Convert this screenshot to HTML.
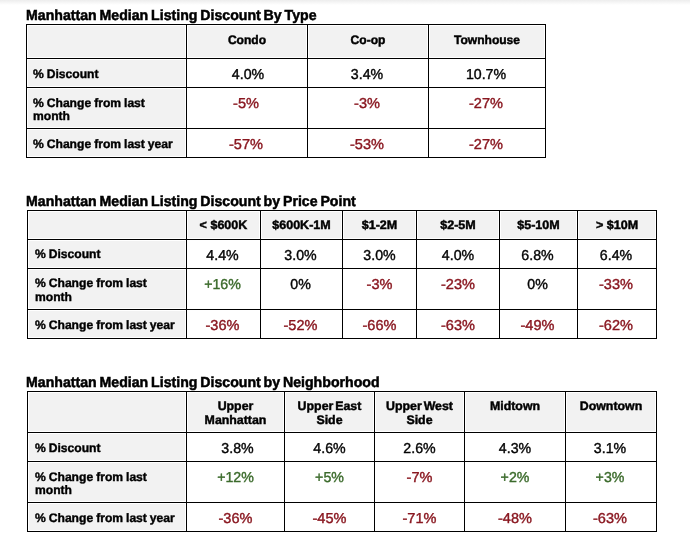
<!DOCTYPE html>
<html lang="en"><head><meta charset="utf-8"><title>Manhattan Median Listing Discount</title>
<style>
html,body{margin:0;padding:0;background:#fff;}
body{width:690px;height:540px;position:relative;overflow:hidden;font-family:"Liberation Sans", sans-serif;color:#111;text-rendering:geometricPrecision;}
.sh{position:absolute;left:0;top:0;width:690px;height:5px;background:linear-gradient(#ededed,#fff);}
.bg{position:absolute;background:#f2f2f2;}
.hl{position:absolute;height:1px;background:#000;}
.vl{position:absolute;width:1px;background:#000;}
.t,.l,.h,.v{position:absolute;white-space:nowrap;line-height:20px;height:20px;}
.t{font-weight:bold;font-size:14.5px;color:#000;transform:scaleX(0.975);transform-origin:0 50%;-webkit-text-stroke:0.5px #000;word-spacing:-1.1px;}
.l{font-weight:bold;font-size:12.3px;color:#000;transform:scaleX(0.985);transform-origin:0 50%;-webkit-text-stroke:0.4px #000;word-spacing:-0.4px;}
.h{font-weight:bold;font-size:12.3px;color:#000;text-align:center;transform:scaleX(1.005);transform-origin:50% 50%;-webkit-text-stroke:0.45px #000;}
.v{font-size:14.4px;text-align:center;transform:scaleX(0.985);transform-origin:50% 50%;-webkit-text-stroke:0.4px;}
.v.m{transform:scaleX(1.01)}
.v.p{transform:scaleX(0.985)}
</style></head><body>
<div class="sh"></div>

<div class="t" style="left:26.4px;top:6px">Manhattan Median Listing Discount By Type</div>
<div class="bg" style="left:28px;top:26px;width:157px;height:31px"></div>
<div class="bg" style="left:28px;top:60px;width:157px;height:26px"></div>
<div class="bg" style="left:28px;top:89px;width:157px;height:38px"></div>
<div class="bg" style="left:28px;top:130px;width:157px;height:26px"></div>
<div class="bg" style="left:188px;top:26px;width:118px;height:31px"></div>
<div class="bg" style="left:309px;top:26px;width:118px;height:31px"></div>
<div class="bg" style="left:430px;top:26px;width:114px;height:31px"></div>
<div class="hl" style="left:26px;top:24px;width:520px"></div>
<div class="hl" style="left:26px;top:58px;width:520px"></div>
<div class="hl" style="left:26px;top:87px;width:520px"></div>
<div class="hl" style="left:26px;top:128px;width:520px"></div>
<div class="hl" style="left:26px;top:157px;width:520px"></div>
<div class="vl" style="left:26px;top:24px;height:134px"></div>
<div class="vl" style="left:186px;top:24px;height:134px"></div>
<div class="vl" style="left:307px;top:24px;height:134px"></div>
<div class="vl" style="left:428px;top:24px;height:134px"></div>
<div class="vl" style="left:545px;top:24px;height:134px"></div>
<div class="h" style="left:186.65px;top:30px;width:120px;transform:scaleX(0.98)">Condo</div>
<div class="h" style="left:307.65px;top:30px;width:120px;transform:scaleX(0.98)">Co-op</div>
<div class="h" style="left:428.65px;top:30px;width:116px;transform:scaleX(0.98)">Townhouse</div>
<div class="l" style="left:33px;top:64px">% Discount</div>
<div class="v" style="left:187.95px;top:65px;width:120px;color:#050505">4.0%</div>
<div class="v" style="left:307.25px;top:65px;width:120px;color:#050505">3.4%</div>
<div class="v" style="left:428.25px;top:65px;width:116px;color:#050505">10.7%</div>
<div class="l" style="left:33px;top:93px">% Change from last</div>
<div class="l" style="left:33px;top:106px">month</div>
<div class="v m" style="left:186.25px;top:94px;width:120px;color:#8a1821">-5%</div>
<div class="v m" style="left:307.25px;top:94px;width:120px;color:#8a1821">-3%</div>
<div class="v m" style="left:428.25px;top:94px;width:116px;color:#8a1821">-27%</div>
<div class="l" style="left:33px;top:134px">% Change from last year</div>
<div class="v m" style="left:186.25px;top:135px;width:120px;color:#8a1821">-57%</div>
<div class="v m" style="left:307.25px;top:135px;width:120px;color:#8a1821">-53%</div>
<div class="v m" style="left:428.25px;top:135px;width:116px;color:#8a1821">-27%</div>
<div class="t" style="left:26.4px;top:192px">Manhattan Median Listing Discount by Price Point</div>
<div class="bg" style="left:29px;top:212px;width:156px;height:26px"></div>
<div class="bg" style="left:29px;top:241px;width:156px;height:26px"></div>
<div class="bg" style="left:29px;top:270px;width:156px;height:38px"></div>
<div class="bg" style="left:29px;top:311px;width:156px;height:26px"></div>
<div class="bg" style="left:188px;top:212px;width:71px;height:26px"></div>
<div class="bg" style="left:262px;top:212px;width:79px;height:26px"></div>
<div class="bg" style="left:344px;top:212px;width:71px;height:26px"></div>
<div class="bg" style="left:418px;top:212px;width:80px;height:26px"></div>
<div class="bg" style="left:501px;top:212px;width:75px;height:26px"></div>
<div class="bg" style="left:579px;top:212px;width:76px;height:26px"></div>
<div class="hl" style="left:27px;top:210px;width:630px"></div>
<div class="hl" style="left:27px;top:239px;width:630px"></div>
<div class="hl" style="left:27px;top:268px;width:630px"></div>
<div class="hl" style="left:27px;top:309px;width:630px"></div>
<div class="hl" style="left:27px;top:338px;width:630px"></div>
<div class="vl" style="left:27px;top:210px;height:129px"></div>
<div class="vl" style="left:186px;top:210px;height:129px"></div>
<div class="vl" style="left:260px;top:210px;height:129px"></div>
<div class="vl" style="left:342px;top:210px;height:129px"></div>
<div class="vl" style="left:416px;top:210px;height:129px"></div>
<div class="vl" style="left:499px;top:210px;height:129px"></div>
<div class="vl" style="left:577px;top:210px;height:129px"></div>
<div class="vl" style="left:656px;top:210px;height:129px"></div>
<div class="h" style="left:186.65px;top:215px;width:73px;transform:scaleX(1.02)">&lt; $600K</div>
<div class="h" style="left:260.65px;top:215px;width:81px;transform:scaleX(1.02)">$600K-1M</div>
<div class="h" style="left:342.65px;top:215px;width:73px;transform:scaleX(1.02)">$1-2M</div>
<div class="h" style="left:416.65px;top:215px;width:82px;transform:scaleX(1.02)">$2-5M</div>
<div class="h" style="left:499.65px;top:215px;width:77px;transform:scaleX(1.02)">$5-10M</div>
<div class="h" style="left:577.65px;top:215px;width:78px;transform:scaleX(1.02)">&gt; $10M</div>
<div class="l" style="left:34.5px;top:244px">% Discount</div>
<div class="v" style="left:186.25px;top:246px;width:73px;color:#050505">4.4%</div>
<div class="v" style="left:260.25px;top:246px;width:81px;color:#050505">3.0%</div>
<div class="v" style="left:342.95px;top:246px;width:73px;color:#050505">3.0%</div>
<div class="v" style="left:416.65px;top:246px;width:82px;color:#050505">4.0%</div>
<div class="v" style="left:499.25px;top:246px;width:77px;color:#050505">6.8%</div>
<div class="v" style="left:577.25px;top:246px;width:78px;color:#050505">6.4%</div>
<div class="l" style="left:34.5px;top:273px">% Change from last</div>
<div class="l" style="left:34.5px;top:287px">month</div>
<div class="v p" style="left:186.25px;top:275px;width:73px;color:#3c6b2c">+16%</div>
<div class="v" style="left:260.25px;top:275px;width:81px;color:#050505">0%</div>
<div class="v m" style="left:342.95px;top:275px;width:73px;color:#8a1821">-3%</div>
<div class="v m" style="left:416.65px;top:275px;width:82px;color:#8a1821">-23%</div>
<div class="v" style="left:499.25px;top:275px;width:77px;color:#050505">0%</div>
<div class="v m" style="left:577.25px;top:275px;width:78px;color:#8a1821">-33%</div>
<div class="l" style="left:34.5px;top:315px">% Change from last year</div>
<div class="v m" style="left:186.25px;top:316px;width:73px;color:#8a1821">-36%</div>
<div class="v m" style="left:260.25px;top:316px;width:81px;color:#8a1821">-52%</div>
<div class="v m" style="left:342.95px;top:316px;width:73px;color:#8a1821">-66%</div>
<div class="v m" style="left:416.65px;top:316px;width:82px;color:#8a1821">-63%</div>
<div class="v m" style="left:499.25px;top:316px;width:77px;color:#8a1821">-49%</div>
<div class="v m" style="left:577.25px;top:316px;width:78px;color:#8a1821">-62%</div>
<div class="t" style="left:26.4px;top:373px">Manhattan Median Listing Discount by Neighborhood</div>
<div class="bg" style="left:29px;top:393px;width:156px;height:38px"></div>
<div class="bg" style="left:29px;top:434px;width:156px;height:26px"></div>
<div class="bg" style="left:29px;top:463px;width:156px;height:38px"></div>
<div class="bg" style="left:29px;top:504px;width:156px;height:26px"></div>
<div class="bg" style="left:188px;top:393px;width:95px;height:38px"></div>
<div class="bg" style="left:286px;top:393px;width:87px;height:38px"></div>
<div class="bg" style="left:376px;top:393px;width:87px;height:38px"></div>
<div class="bg" style="left:466px;top:393px;width:98px;height:38px"></div>
<div class="bg" style="left:567px;top:393px;width:88px;height:38px"></div>
<div class="hl" style="left:27px;top:391px;width:630px"></div>
<div class="hl" style="left:27px;top:432px;width:630px"></div>
<div class="hl" style="left:27px;top:461px;width:630px"></div>
<div class="hl" style="left:27px;top:502px;width:630px"></div>
<div class="hl" style="left:27px;top:531px;width:630px"></div>
<div class="vl" style="left:27px;top:391px;height:141px"></div>
<div class="vl" style="left:186px;top:391px;height:141px"></div>
<div class="vl" style="left:284px;top:391px;height:141px"></div>
<div class="vl" style="left:374px;top:391px;height:141px"></div>
<div class="vl" style="left:464px;top:391px;height:141px"></div>
<div class="vl" style="left:565px;top:391px;height:141px"></div>
<div class="vl" style="left:656px;top:391px;height:141px"></div>
<div class="h" style="left:186.65px;top:396px;width:97px">Upper</div>
<div class="h" style="left:186.65px;top:410px;width:97px">Manhattan</div>
<div class="h" style="left:284.65px;top:396px;width:89px;word-spacing:-1.5px">Upper East</div>
<div class="h" style="left:284.65px;top:410px;width:89px">Side</div>
<div class="h" style="left:374.65px;top:396px;width:89px;word-spacing:-1.5px">Upper West</div>
<div class="h" style="left:374.65px;top:410px;width:89px">Side</div>
<div class="h" style="left:464.65px;top:396px;width:100px">Midtown</div>
<div class="h" style="left:565.65px;top:396px;width:90px">Downtown</div>
<div class="l" style="left:34.5px;top:438px">% Discount</div>
<div class="v" style="left:189.1px;top:439px;width:97px;color:#050505">3.8%</div>
<div class="v" style="left:284.75px;top:439px;width:89px;color:#050505">4.6%</div>
<div class="v" style="left:375.25px;top:439px;width:89px;color:#050505">2.6%</div>
<div class="v" style="left:464.55px;top:439px;width:100px;color:#050505">4.3%</div>
<div class="v" style="left:565.25px;top:439px;width:90px;color:#050505">3.1%</div>
<div class="l" style="left:34.5px;top:467px">% Change from last</div>
<div class="l" style="left:34.5px;top:480px">month</div>
<div class="v p" style="left:186.85px;top:468px;width:97px;color:#3c6b2c">+12%</div>
<div class="v p" style="left:284.95px;top:468px;width:89px;color:#3c6b2c">+5%</div>
<div class="v m" style="left:374.75px;top:468px;width:89px;color:#8a1821">-7%</div>
<div class="v p" style="left:464.65px;top:468px;width:100px;color:#3c6b2c">+2%</div>
<div class="v p" style="left:565.25px;top:468px;width:90px;color:#3c6b2c">+3%</div>
<div class="l" style="left:34.5px;top:508px">% Change from last year</div>
<div class="v m" style="left:186.65px;top:509px;width:97px;color:#8a1821">-36%</div>
<div class="v m" style="left:284.85px;top:509px;width:89px;color:#8a1821">-45%</div>
<div class="v m" style="left:374.75px;top:509px;width:89px;color:#8a1821">-71%</div>
<div class="v m" style="left:464.65px;top:509px;width:100px;color:#8a1821">-48%</div>
<div class="v m" style="left:565.25px;top:509px;width:90px;color:#8a1821">-63%</div>
</body></html>
